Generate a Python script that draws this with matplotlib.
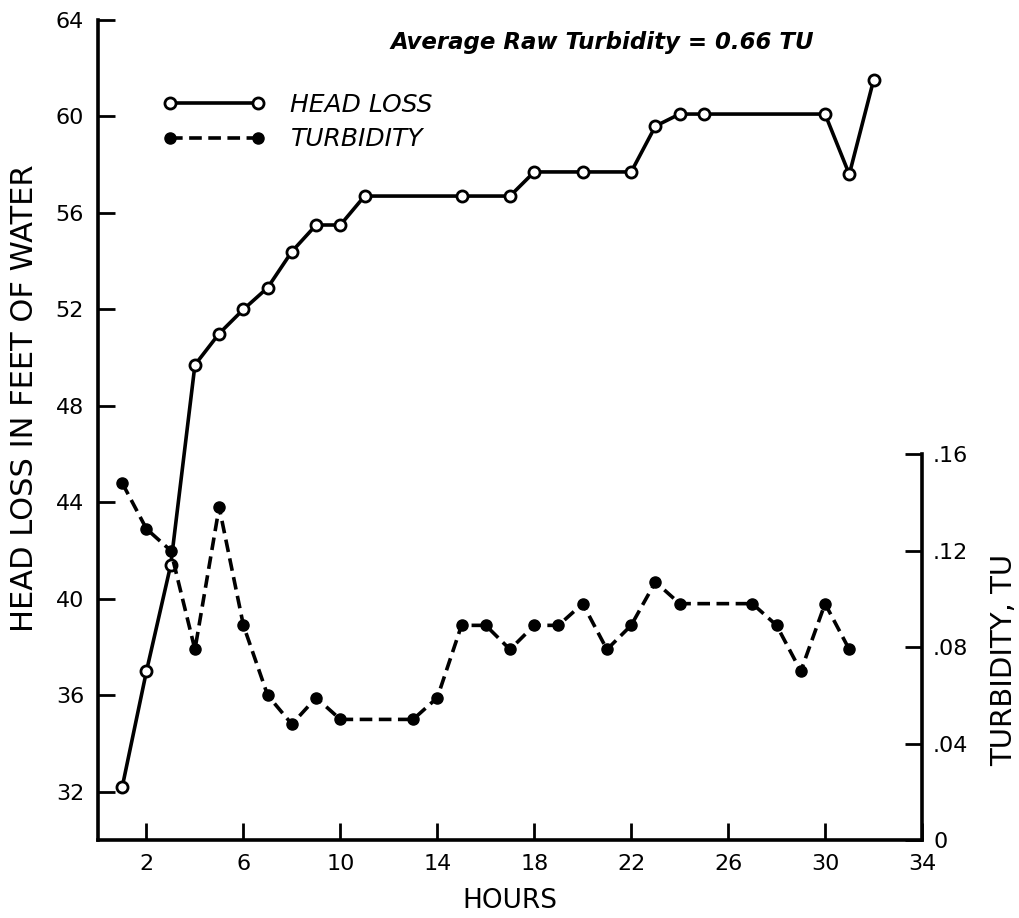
import matplotlib
matplotlib.use("Agg")
import matplotlib.pyplot as plt

# head loss, feet of water (open circles, solid line)
hl_hours = [1, 2, 3, 4, 5, 6, 7, 8, 9, 10, 11, 15, 17, 18, 20, 22, 23, 24, 25, 30, 31, 32]
hl_feet = [32.2, 37.0, 41.4, 49.7, 51.0, 52.0, 52.9, 54.4, 55.5, 55.5, 56.7, 56.7, 56.7,
           57.7, 57.7, 57.7, 59.6, 60.1, 60.1, 60.1, 57.6, 61.5]

# turbidity, TU (filled circles, dashed line)
tb_hours = [1, 2, 3, 4, 5, 6, 7, 8, 9, 10, 13, 14, 15, 16, 17, 18, 19, 20, 21, 22, 23,
            24, 27, 28, 29, 30, 31]
tb_tu = [0.148, 0.129, 0.120, 0.079, 0.138, 0.089, 0.060, 0.048, 0.059, 0.050, 0.050,
         0.059, 0.089, 0.089, 0.079, 0.089, 0.089, 0.098, 0.079, 0.089, 0.107,
         0.098, 0.098, 0.089, 0.070, 0.098, 0.079]

x_ticks = [2, 6, 10, 14, 18, 22, 26, 30, 34]
left_ticks = [32, 36, 40, 44, 48, 52, 56, 60, 64]
right_ticks = [0, 0.04, 0.08, 0.12, 0.16]
right_labels = ["0", ".04", ".08", ".12", ".16"]

plt.rcParams["font.family"] = ["DejaVu Sans"]

fig = plt.figure(figsize=(10.2, 9.18), dpi=100)
ax = fig.add_axes([98 / 1020, 78 / 918, 824 / 1020, 820 / 918])
ax2 = ax.twinx()

lw = 2.6
l1, = ax.plot(hl_hours, hl_feet, color="black", lw=lw, marker="o", ms=8,
              mfc="white", mec="black", mew=2, label="HEAD LOSS", zorder=3)
l2, = ax2.plot(tb_hours, tb_tu, color="black", lw=lw, ls=(0, (3.5, 1.8)), marker="o",
               ms=8, mfc="black", mec="black", label="TURBIDITY", zorder=3)

ax.set_xlim(0, 34)
ax.set_ylim(30, 64)
ax2.set_ylim(0, 0.34)

ax.set_xticks(x_ticks)
ax.set_yticks(left_ticks)
ax2.set_yticks(right_ticks)
ax2.set_yticklabels(right_labels)

for a in (ax, ax2):
    a.spines["top"].set_visible(False)
    for s in a.spines.values():
        s.set_linewidth(2.6)
ax.spines["right"].set_visible(False)
ax2.spines["left"].set_visible(False)
ax2.spines["bottom"].set_visible(False)
ax2.spines["right"].set_bounds(0, 0.16)

ax.tick_params(axis="both", direction="in", length=12, width=2, labelsize=16, pad=10)
ax2.tick_params(axis="y", direction="in", length=12, width=2, labelsize=16, pad=8)

ax.set_xlabel("HOURS", fontsize=19, labelpad=10)
ax.set_ylabel("HEAD LOSS IN FEET OF WATER", fontsize=22)
ax.yaxis.set_label_coords(-0.071, 0.539)
ax2.set_ylabel("TURBIDITY, TU", fontsize=21)
ax2.yaxis.set_label_coords(1.083, 0.22)

ax.text(20.8, 63.05, "Average Raw Turbidity = 0.66 TU", ha="center", va="center",
        fontsize=16.5, fontstyle="italic", fontweight="bold")

ax2.legend([l1, l2], ["HEAD LOSS", "TURBIDITY"], loc="upper left",
           bbox_to_anchor=(163 / 1020, 1 - 93 / 918), bbox_transform=fig.transFigure,
           frameon=False, numpoints=2, handlelength=4.1, handletextpad=1.0,
           labelspacing=0.42, borderpad=0, borderaxespad=0,
           prop={"size": 18, "style": "italic"})

fig.savefig("out.png", dpi=100)
